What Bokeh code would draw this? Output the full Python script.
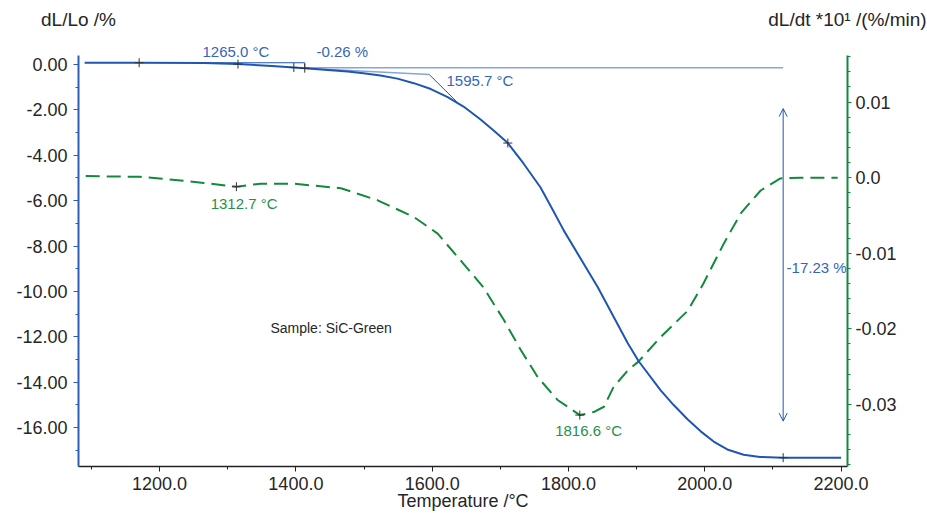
import numpy as np
from bokeh.plotting import figure
from bokeh.models import (Range1d, LinearAxis, FixedTicker, Label, Arrow, OpenHead,
                          CustomJSTickFormatter)
from bokeh.embed import file_html
from bokeh.resources import INLINE

# ---- data -------------------------------------------------------------
temp_dl = [1090, 1170, 1265, 1315, 1365, 1413, 1476, 1499, 1524, 1549, 1573, 1598,
           1622, 1646, 1671, 1691, 1711, 1734, 1759, 1778, 1793, 1843, 1887, 1903, 1935,
           1954, 1975, 1994, 2013, 2033, 2057, 2081, 2115, 2200]
dl = [0.08, 0.08, 0.07, 0.02, -0.06, -0.16, -0.31, -0.38, -0.48, -0.62, -0.82, -1.08,
      -1.42, -1.85, -2.42, -2.93, -3.46, -4.36, -5.42, -6.47, -7.31, -9.82, -12.29, -13.08,
      -14.35, -15.0, -15.65, -16.17, -16.62, -16.97, -17.2, -17.3, -17.33, -17.33]

temp_dt = [1091.6, 1170.8, 1200, 1264.6, 1312.7, 1348, 1397, 1466, 1520, 1573, 1608,
           1646, 1675, 1705, 1730, 1755, 1784, 1816.6, 1827, 1837, 1852, 1866, 1887,
           1903, 1935, 1975, 1998, 2028, 2053, 2082, 2111, 2141, 2195]
dt = [0.0002, 0.0001, -0.0001, -0.0007, -0.0012, -0.0008, -0.0008, -0.0014, -0.0030,
      -0.0052, -0.0074, -0.0114, -0.0145, -0.0188, -0.0228, -0.0264, -0.0294, -0.0314,
      -0.0312, -0.0310, -0.0303, -0.0277, -0.0255, -0.0243, -0.0211, -0.0176, -0.0140,
      -0.0087, -0.0047, -0.0017, -0.0001, 0.0, 0.0]

marks_dl_t = [1170, 1315, 1397, 1413, 1711, 2115]
marks_dl_v = [0.08, 0.02, -0.13, -0.16, -3.46, -17.33]
marks_dt_t = [1312.7, 1816.6]
marks_dt_v = [-0.0012, -0.0314]

step_t = [1265, 1413]
step_v = [0.08, -0.16]
onset_t = 1595.7
onset_v = -0.44
tangent_end = (1637, -1.67)
ref_level = -0.14
total_step_t = 2115
total_step_v = [-1.94, -15.72]

x_ticks = [1200, 1400, 1600, 1800, 2000, 2200]
y_ticks = [0, -2, -4, -6, -8, -10, -12, -14, -16]
y2_ticks = [0.01, 0.0, -0.01, -0.02, -0.03]

top_ann_t = [1312, 1468]
top_ann_text = ["1265.0 °C", "-0.26 %"]

# ---- colours -----------------------------------------------------------
BLUE = "#1f56b0"
BLUE_TXT = "#3566ba"
LIGHT = "#86a5da"
GREEN = "#12893d"
GREEN_TXT = "#1f9048"
TXT = "#262626"
FONT = "Liberation Sans"

XMIN, XMAX = 1081, 2209.4
YMIN, YMAX = -17.72, 0.40
Y2MIN, Y2MAX = -0.0382, 0.01615

p = figure(width=927, height=513, x_range=Range1d(XMIN, XMAX),
           y_range=Range1d(YMIN, YMAX), output_backend="svg",
           toolbar_location=None, min_border_left=78, min_border_right=80,
           min_border_top=55, min_border_bottom=47)
p.extra_y_ranges = {"dt": Range1d(Y2MIN, Y2MAX)}
p.outline_line_color = None
p.grid.visible = False
p.background_fill_color = "white"

# x axis
xa = p.xaxis[0]
xa.ticker = FixedTicker(ticks=x_ticks, minor_ticks=list(np.arange(1100, 2201, 100)))
xa.formatter = CustomJSTickFormatter(code="return tick.toFixed(1);")
xa.axis_line_color = "#222222"
xa.axis_line_width = 1.5
xa.major_tick_line_color = "#222222"
xa.minor_tick_line_color = "#222222"
xa.major_tick_out = 5
xa.major_tick_in = 0
xa.minor_tick_out = 3
xa.minor_tick_in = 0
xa.major_label_standoff = 5
xa.major_label_text_font = FONT
xa.major_label_text_font_size = "18px"
xa.major_label_text_color = TXT
xa.major_label_text_line_height = 1.0
xa.axis_label = "Temperature /°C"
xa.axis_label_text_font = FONT
xa.axis_label_text_font_size = "18px"
xa.axis_label_text_font_style = "normal"
xa.axis_label_text_color = TXT
xa.axis_label_text_line_height = 1.0
xa.axis_label_standoff = -2

# left axis
ya = p.yaxis[0]
ya.ticker = FixedTicker(ticks=y_ticks, minor_ticks=list(np.arange(-17, 0.5, 1)))
ya.formatter = CustomJSTickFormatter(code="return tick.toFixed(2);")
ya.axis_line_color = "#2d5fb8"
ya.axis_line_width = 2
ya.major_tick_line_color = "#2d5fb8"
ya.minor_tick_line_color = "#2d5fb8"
ya.major_tick_out = 5
ya.major_tick_in = 0
ya.minor_tick_out = 3
ya.minor_tick_in = 0
ya.major_label_standoff = 6
ya.major_label_text_font = FONT
ya.major_label_text_font_size = "18px"
ya.major_label_text_color = TXT

# right axis
ra = LinearAxis(y_range_name="dt")
ra.ticker = FixedTicker(ticks=y2_ticks,
                        minor_ticks=list(np.round(np.arange(-0.038, 0.0165, 0.002), 4)))
ra.formatter = CustomJSTickFormatter(code="return Math.abs(tick) < 1e-9 ? '0.0' : tick.toFixed(2);")
ra.axis_line_color = GREEN
ra.axis_line_width = 2
ra.major_tick_line_color = GREEN
ra.minor_tick_line_color = GREEN
ra.major_tick_out = 4
ra.major_tick_in = 0
ra.minor_tick_out = 3
ra.minor_tick_in = 0
ra.major_label_standoff = 4
ra.major_label_text_font = FONT
ra.major_label_text_font_size = "18px"
ra.major_label_text_color = TXT
p.add_layout(ra, "right")

# inner "above" axis: step annotations just over the frame edge
ia = LinearAxis(ticker=FixedTicker(ticks=top_ann_t, minor_ticks=[]),
                formatter=CustomJSTickFormatter(args=dict(labels=top_ann_text),
                                                code="return labels[index];"))
ia.axis_line_color = None
ia.major_tick_line_color = None
ia.minor_tick_line_color = None
ia.major_tick_out = 0
ia.major_tick_in = 0
ia.major_label_standoff = -4
ia.major_label_text_font = FONT
ia.major_label_text_font_size = "15px"
ia.major_label_text_color = BLUE_TXT
p.add_layout(ia, "above")

# outer "above" axis: the two axis titles
ta = LinearAxis(ticker=FixedTicker(ticks=[XMIN + 0.01, XMAX - 0.01], minor_ticks=[]),
                formatter=CustomJSTickFormatter(
                    args=dict(labels=["dL/Lo /%", "dL/dt *10\u00b9 /(%/min)"]),
                    code="return labels[index];"))
ta.axis_line_color = None
ta.major_tick_line_color = None
ta.minor_tick_line_color = None
ta.major_tick_out = 0
ta.major_tick_in = 0
ta.major_label_standoff = 10
ta.major_label_text_font = FONT
ta.major_label_text_font_size = "19px"
ta.major_label_text_color = TXT
p.add_layout(ta, "above")

# ---- aux lines -------------------------------------------------------
p.line([step_t[1], total_step_t], [ref_level, ref_level], line_color=LIGHT, line_width=1.5)
p.line([step_t[1], onset_t], [step_v[1], onset_v], line_color=LIGHT, line_width=1.5)
p.line([onset_t, tangent_end[0]], [onset_v, tangent_end[1]], line_color=BLUE, line_width=1)
p.line([step_t[0], step_t[1], step_t[1]], [step_v[0], step_v[0], step_v[1]],
       line_color=BLUE, line_width=1)

# ---- curves ------------------------------------------------------------
p.line(temp_dt, dt, y_range_name="dt", line_color=GREEN, line_width=2, line_dash="14 7")
p.line(temp_dl, dl, line_color=BLUE, line_width=2)

p.scatter(marks_dl_t, marks_dl_v, marker="cross", size=9, line_color="#333333", line_width=1)
p.scatter(marks_dt_t, marks_dt_v, marker="cross", size=9, line_color="#333333",
          line_width=1, y_range_name="dt")

p.add_layout(Arrow(start=OpenHead(size=8, line_color=BLUE, line_width=1),
                   end=OpenHead(size=8, line_color=BLUE, line_width=1),
                   x_start=total_step_t, y_start=total_step_v[0],
                   x_end=total_step_t, y_end=total_step_v[1],
                   line_color=BLUE, line_width=1))

# ---- text -----------------------------------------------------------
def lab(x, y, text, color, size, align="center", rng="default", base="middle"):
    p.add_layout(Label(x=x, y=y, text=text, text_color=color, text_font=FONT,
                       text_font_size=size, text_align=align, text_baseline=base,
                       y_range_name=rng))

lab(1621, -0.70, "1595.7 °C", BLUE_TXT, "15px", align="left")
lab(1324, -0.0034, "1312.7 °C", GREEN_TXT, "15px", rng="dt")
lab(1829.5, -0.0335, "1816.6 °C", GREEN_TXT, "15px", rng="dt")
lab(2120, -8.94, "-17.23 %", BLUE_TXT, "15px", align="left")
lab(1451.7, -11.62, "Sample: SiC-Green", TXT, "14px")

open("out.html", "w").write(file_html(p, INLINE))
